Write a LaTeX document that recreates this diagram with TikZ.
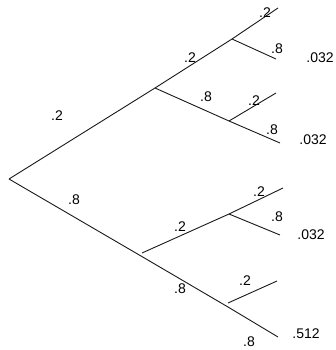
\documentclass[tikz,border=0pt]{standalone}
\usepackage{fontspec}
\setmainfont{Liberation Sans}
\begin{document}
\begin{tikzpicture}[x=1pt,y=-1pt,
  edge/.style={line width=0.9pt,black!90},
  lab/.style={inner sep=0pt,font=\fontsize{14}{16}\selectfont}]
\useasboundingbox (0,0) rectangle (335,350);
% coordinates
\coordinate (r) at (9,179);
\coordinate (u) at (155,88);
\coordinate (uu) at (232,39);
\coordinate (uut) at (278,8);
\coordinate (uub) at (276,59);
\coordinate (ud) at (229,121);
\coordinate (udt) at (276,93);
\coordinate (udb) at (280,143);
\coordinate (l) at (141,256);
\coordinate (lb) at (142,253);
\coordinate (lu) at (229,214);
\coordinate (lut) at (283,188);
\coordinate (lub) at (280,235);
\coordinate (ll) at (228,307);
\coordinate (llb) at (278,337);
\coordinate (llu) at (228,303);
\coordinate (llt) at (277,281);
% edges
\draw[edge] (r) -- (u) -- (uu) -- (uut);
\draw[edge] (uu) -- (uub);
\draw[edge] (u) -- (ud) -- (udb);
\draw[edge] (ud) -- (udt);
\draw[edge] (r) -- (l) -- (ll) -- (llb);
\draw[edge] (lb) -- (lu) -- (lut);
\draw[edge] (lu) -- (lub);
\draw[edge] (llu) -- (llt);
% labels
\node[lab] (t1) at (57,116) {.2};
\node[lab] (t2) at (190,58) {.2};
\node[lab] (t3) at (265,13) {.2};
\node[lab] (t4) at (277,49) {.8};
\node[lab] (p1) at (320,58) {.032};
\node[lab] (t5) at (206,97) {.8};
\node[lab] (t6) at (254,101) {.2};
\node[lab] (t7) at (272,130) {.8};
\node[lab] (p2) at (313,140) {.032};
\node[lab] (t8) at (74,200) {.8};
\node[lab] (t9) at (180,227) {.2};
\node[lab] (t10) at (259,192) {.2};
\node[lab] (t11) at (277,217) {.8};
\node[lab] (p3) at (311,235) {.032};
\node[lab] (t12) at (180,289) {.8};
\node[lab] (t13) at (245,281) {.2};
\node[lab] (t14) at (249,342) {.8};
\node[lab] (p4) at (306,334) {.512};
\end{tikzpicture}
\end{document}
